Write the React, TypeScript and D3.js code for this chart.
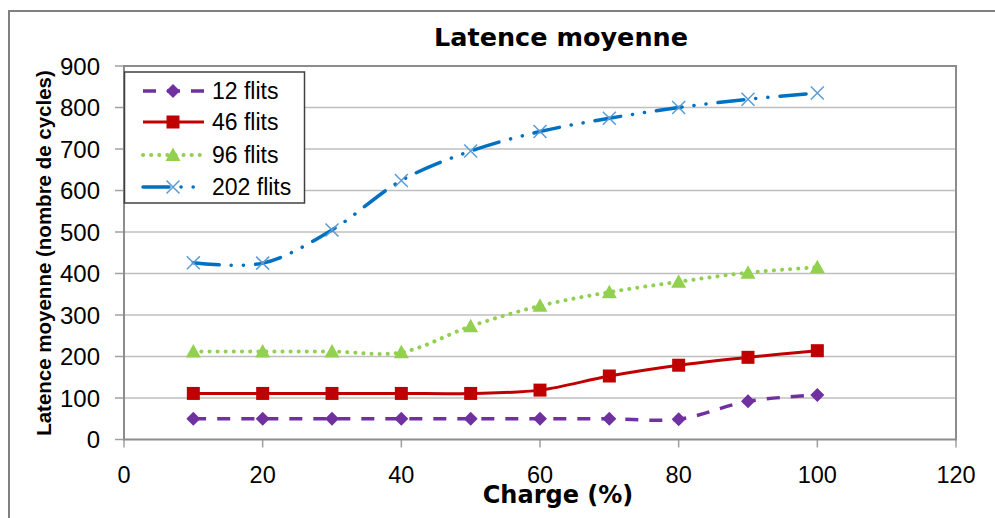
import React from "react";
import * as d3 from "d3";

const charge = [10, 20, 30, 40, 50, 60, 70, 80, 90, 100];
const seriesNames = ["12 flits", "46 flits", "96 flits", "202 flits"];
const flits12 = [50, 50, 50, 50, 50, 50, 50, 49, 92, 107];
const flits46 = [111, 111, 111, 111, 111, 119, 153, 179, 198, 214];
const flits96 = [212, 212, 212, 210, 273, 322, 355, 380, 402, 415];
const flits202 = [426, 425, 505, 624, 695, 742, 774, 800, 820, 835];
const xTicks = [0, 20, 40, 60, 80, 100, 120];
const yTicks = [0, 100, 200, 300, 400, 500, 600, 700, 800, 900];

const W = 995;
const H = 518;
const plot = { left: 124, right: 956, top: 66, bottom: 439.5 };

type Style = {
  color: string;
  markerColor: string;
  dash: string;
  cap: string;
  width: number;
  marker: string;
};

const styles: Style[] = [
  { color: "#7030A0", markerColor: "#7030A0", dash: "13 11", cap: "butt", width: 3.5, marker: "diamond" },
  { color: "#C00000", markerColor: "#C00000", dash: "", cap: "butt", width: 3, marker: "square" },
  { color: "#92D050", markerColor: "#92D050", dash: "0.1 8", cap: "round", width: 4, marker: "triangle" },
  { color: "#0070C0", markerColor: "#5B9BD5", dash: "26 12 0.1 12 0.1 12", cap: "round", width: 3.5, marker: "x" },
];

function Marker({ type, x, y, color }: { type: string; x: number; y: number; color: string }) {
  if (type === "diamond") {
    const s = 7;
    return <path d={`M${x},${y - s}L${x + s},${y}L${x},${y + s}L${x - s},${y}Z`} fill={color} />;
  }
  if (type === "square") {
    const s = 6.5;
    return <rect x={x - s} y={y - s} width={2 * s} height={2 * s} fill={color} />;
  }
  if (type === "triangle") {
    const s = 7.5;
    return <path d={`M${x},${y - s}L${x + s},${y + s * 0.8}L${x - s},${y + s * 0.8}Z`} fill={color} />;
  }
  const s = 6.5;
  return (
    <path
      d={`M${x - s},${y - s}L${x + s},${y + s}M${x - s},${y + s}L${x + s},${y - s}`}
      stroke={color}
      strokeWidth={1.5}
      fill="none"
    />
  );
}

export default function App() {
  const x = d3.scaleLinear().domain([0, 120]).range([plot.left, plot.right]);
  const y = d3.scaleLinear().domain([0, 900]).range([plot.bottom, plot.top]);
  const allSeries = [flits12, flits46, flits96, flits202];
  const line = d3
    .line<number>()
    .x((_, i) => x(charge[i]))
    .y((d) => y(d))
    .curve(d3.curveCatmullRom.alpha(0.5));

  const legendY = [91, 122, 155, 187];

  return (
    <svg
      width={W}
      height={H}
      style={{ position: "absolute", left: 0, top: 0, background: "#fff" }}
      fontFamily="'Liberation Sans', Arial, sans-serif"
    >
      <rect x={0} y={0} width={W} height={H} fill="#fff" />
      <rect x={9} y={11} width={1100} height={700} fill="none" stroke="#808080" strokeWidth={2} />
      <text x={561} y={46} textAnchor="middle" fontFamily="'DejaVu Sans', sans-serif" fontWeight="bold" fontSize={25.5}>
        Latence moyenne
      </text>
      {yTicks.map((t) => (
        <g key={"y" + t}>
          {t > 0 && t < 900 && (
            <line x1={plot.left} x2={plot.right} y1={y(t)} y2={y(t)} stroke="#BFBFBF" strokeWidth={1.5} />
          )}
          <line x1={plot.left - 9} x2={plot.left} y1={y(t)} y2={y(t)} stroke="#A0A0A0" strokeWidth={1.5} />
          <text x={100} y={y(t) + 8.5} textAnchor="end" fontSize={24} fill="#000">
            {t}
          </text>
        </g>
      ))}
      {xTicks.map((t) => (
        <g key={"x" + t}>
          <line x1={x(t)} x2={x(t)} y1={plot.bottom} y2={plot.bottom + 8} stroke="#A0A0A0" strokeWidth={1.5} />
          <text x={x(t)} y={483} textAnchor="middle" fontSize={23.5} fill="#000">
            {t}
          </text>
        </g>
      ))}
      <rect
        x={plot.left}
        y={plot.top}
        width={plot.right - plot.left}
        height={plot.bottom - plot.top}
        fill="none"
        stroke="#8C8C8C"
        strokeWidth={2}
      />
      {allSeries.map((vals, si) => (
        <g key={"s" + si}>
          <path
            d={line(vals) || ""}
            fill="none"
            stroke={styles[si].color}
            strokeWidth={styles[si].width}
            strokeDasharray={styles[si].dash || undefined}
            strokeLinecap={styles[si].cap as any}
          />
          {vals.map((v, i) => (
            <Marker key={i} type={styles[si].marker} x={x(charge[i])} y={y(v)} color={styles[si].markerColor} />
          ))}
        </g>
      ))}
      <rect x={124.5} y={72} width={180} height={131} fill="#fff" stroke="#404040" strokeWidth={1.5} />
      {seriesNames.map((name, si) => (
        <g key={"l" + si}>
          <line
            x1={143}
            x2={204}
            y1={legendY[si]}
            y2={legendY[si]}
            stroke={styles[si].color}
            strokeWidth={styles[si].width}
            strokeDasharray={styles[si].dash || undefined}
            strokeLinecap={styles[si].cap as any}
          />
          <Marker type={styles[si].marker} x={173} y={legendY[si]} color={styles[si].markerColor} />
          <text x={212} y={legendY[si] + 8} fontSize={23} fill="#000">
            {name}
          </text>
        </g>
      ))}
      <text
        transform={`translate(51,253) rotate(-90)`}
        textAnchor="middle"
        fontWeight="bold"
        fontSize={20.5}
        fill="#000"
      >
        Latence moyenne (nombre de cycles)
      </text>
      <text x={558} y={503} textAnchor="middle" fontFamily="'DejaVu Sans', sans-serif" fontWeight="bold" fontSize={24}>
        Charge (%)
      </text>
    </svg>
  );
}
